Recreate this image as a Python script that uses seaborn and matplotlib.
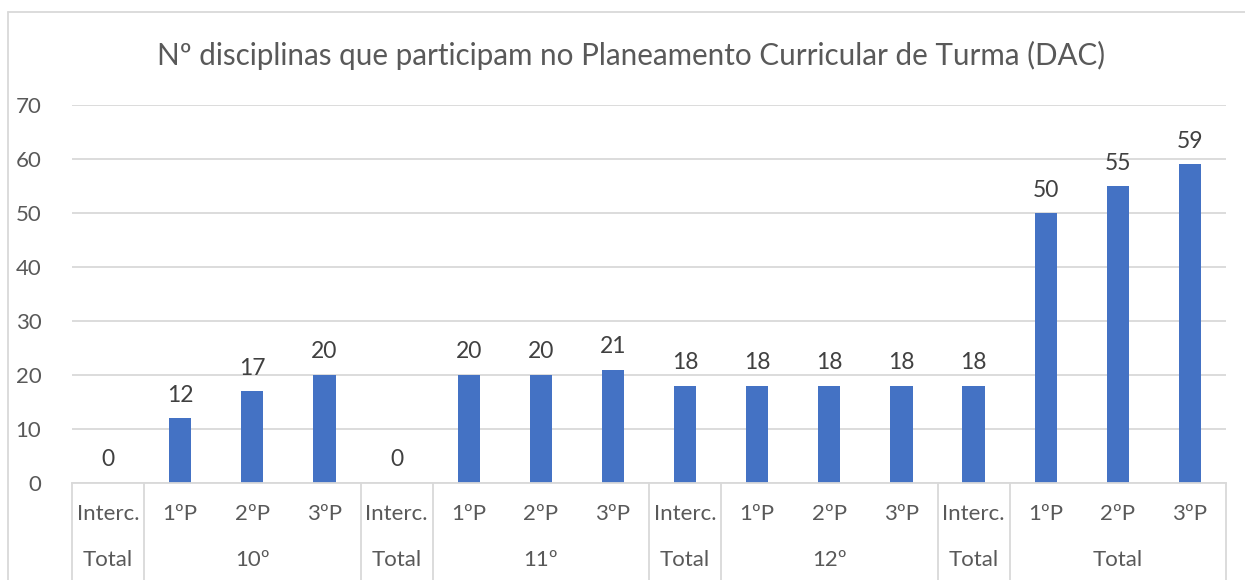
import pandas as pd
import seaborn as sns
import matplotlib.pyplot as plt
from matplotlib.lines import Line2D

# data
periodos = ['Interc.', '1ºP', '2ºP', '3ºP', 'Interc.', '1ºP', '2ºP', '3ºP',
            'Interc.', '1ºP', '2ºP', '3ºP', 'Interc.', '1ºP', '2ºP', '3ºP']
grupos = ['Total', '10º', 'Total', '11º', 'Total', '12º', 'Total', 'Total']
grupo_tamanho = [1, 3, 1, 3, 1, 3, 1, 3]
valores = [0, 12, 17, 20, 0, 20, 20, 21, 18, 18, 18, 18, 18, 50, 55, 59]

df = pd.DataFrame({'pos': range(len(valores)), 'valor': valores})

sns.set_style('white')
plt.rcParams['font.family'] = ['Lato', 'DejaVu Sans']

cinza = '#d9d9d9'
texto = '#595959'

fig = plt.figure(figsize=(12.45, 5.8), dpi=100)
ax = fig.add_axes([72 / 1245, 97 / 580, (1226 - 72) / 1245, 378 / 580])

sns.barplot(data=df, x='pos', y='valor', color='#4472C4', width=0.31,
            saturation=1, linewidth=0, ax=ax)

ax.set_ylim(0, 70)
ax.set_xlim(-0.5, len(valores) - 0.5)
ax.set_yticks(range(0, 71, 10))
ax.yaxis.grid(True, color=cinza, linewidth=1.3)
ax.set_axisbelow(True)
for s in ['top', 'right', 'left']:
    ax.spines[s].set_visible(False)
ax.spines['bottom'].set_color(cinza)
ax.spines['bottom'].set_linewidth(1.3)

ax.set_xticks(range(len(periodos)))
ax.set_xticklabels(periodos)
ax.tick_params(axis='x', length=0, pad=15, labelsize=16, labelcolor=texto)
ax.tick_params(axis='y', length=0, pad=22, labelsize=16, labelcolor=texto)
ax.set_xlabel('')
ax.set_ylabel('')

ax.bar_label(ax.containers[0], padding=9, fontsize=16.5, color='#404040')

# second row of labels and separators
trans = ax.get_xaxis_transform()
inicio = -0.5
bordas = [inicio]
for g, n in zip(grupos, grupo_tamanho):
    ax.text(inicio + n / 2, -0.205, g, transform=trans, ha='center', va='center',
            fontsize=16, color=texto)
    inicio += n
    bordas.append(inicio)
for b in bordas:
    ax.plot([b, b], [0, -0.27], transform=trans, color=cinza, lw=1.3, clip_on=False)

# title is centred on the whole chart frame, not on the plot area
fig.suptitle('Nº disciplinas que participam no Planeamento Curricular de Turma (DAC)',
             x=631.5 / 1245, y=1 - 55 / 580, va='center',
             fontsize=21.3, color=texto)

# chart border
fig.add_artist(Line2D([8 / 1245, 8 / 1245], [0, 1 - 12 / 580], color=cinza, lw=1.3))
fig.add_artist(Line2D([8 / 1245, 1], [1 - 12 / 580, 1 - 12 / 580], color=cinza, lw=1.3))

fig.savefig('out.png', dpi=100)
